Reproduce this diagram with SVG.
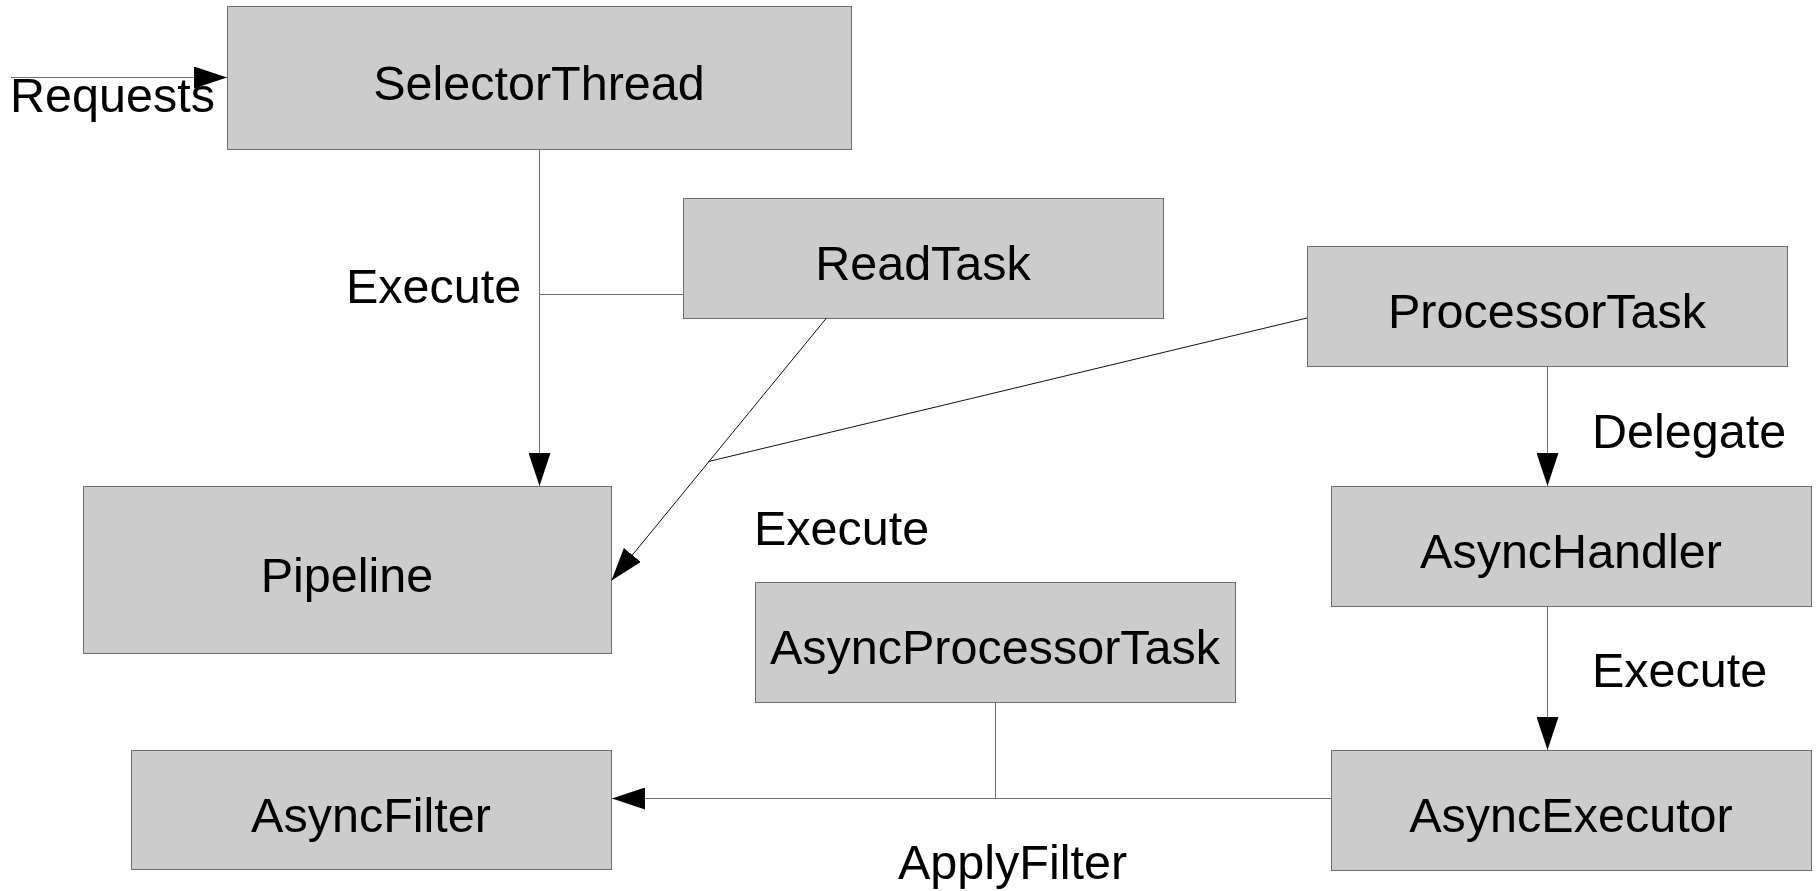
<svg xmlns="http://www.w3.org/2000/svg" width="1816" height="891" viewBox="0 0 1816 891">
  <style>
    .box { fill: #cccccc; stroke: #6e6e6e; stroke-width: 1; }
    .lbl { font-family: "Liberation Sans", Arial, sans-serif; font-size: 48.5px; fill: #000; }
    .name { text-anchor: middle; }
    .edge { fill: none; stroke: #6e6e6e; stroke-width: 1; }
    .diag { fill: none; stroke: #111; stroke-width: 1; }
  </style>
  <defs>
    <marker id="head" markerUnits="userSpaceOnUse" markerWidth="33" markerHeight="22" refX="33" refY="11" orient="auto">
      <path d="M0,0 L33,11 L0,22 Z" fill="#000"/>
    </marker>
  </defs>
  <rect width="1816" height="891" fill="#ffffff"/>

  <!-- nodes -->
  <g id="selector-thread">
    <rect class="box" x="227.5" y="6.5" width="624" height="143"/>
    <text class="lbl name" x="539" y="100">SelectorThread</text>
  </g>
  <g id="read-task">
    <rect class="box" x="683.5" y="198.5" width="480" height="120"/>
    <text class="lbl name" x="923" y="280">ReadTask</text>
  </g>
  <g id="processor-task">
    <rect class="box" x="1307.5" y="246.5" width="480" height="120"/>
    <text class="lbl name" x="1547" y="328">ProcessorTask</text>
  </g>
  <g id="pipeline">
    <rect class="box" x="83.5" y="486.5" width="528" height="167"/>
    <text class="lbl name" x="347" y="592">Pipeline</text>
  </g>
  <g id="async-handler">
    <rect class="box" x="1331.5" y="486.5" width="480" height="120"/>
    <text class="lbl name" x="1571" y="568">AsyncHandler</text>
  </g>
  <g id="async-processor-task">
    <rect class="box" x="755.5" y="582.5" width="480" height="120"/>
    <text class="lbl name" x="995" y="664">AsyncProcessorTask</text>
  </g>
  <g id="async-filter">
    <rect class="box" x="131.5" y="750.5" width="480" height="119"/>
    <text class="lbl name" x="371" y="832">AsyncFilter</text>
  </g>
  <g id="async-executor">
    <rect class="box" x="1331.5" y="750.5" width="480" height="120"/>
    <text class="lbl name" x="1571" y="832">AsyncExecutor</text>
  </g>

  <!-- connectors -->
  <g id="connectors">
    <line class="edge" x1="11" y1="77.5" x2="227" y2="77.5" marker-end="url(#head)"/>
    <line class="edge" x1="539.5" y1="150" x2="539.5" y2="486" marker-end="url(#head)"/>
    <line class="edge" x1="683" y1="294.5" x2="539.5" y2="294.5"/>
    <line class="diag" x1="826.5" y1="318" x2="611.5" y2="580.5" marker-end="url(#head)"/>
    <line class="diag" x1="1307" y1="318" x2="708.5" y2="461.5"/>
    <line class="edge" x1="1547.5" y1="367" x2="1547.5" y2="486" marker-end="url(#head)"/>
    <line class="edge" x1="1547.5" y1="607" x2="1547.5" y2="750" marker-end="url(#head)"/>
    <line class="edge" x1="1331" y1="798.5" x2="612" y2="798.5" marker-end="url(#head)"/>
    <line class="edge" x1="995.5" y1="703" x2="995.5" y2="798.5"/>
  </g>

  <!-- edge labels -->
  <g id="edge-labels">
    <text class="lbl" x="10" y="112">Requests</text>
    <text class="lbl" x="346" y="303">Execute</text>
    <text class="lbl" x="754" y="545">Execute</text>
    <text class="lbl" x="1592" y="448">Delegate</text>
    <text class="lbl" x="1592" y="687">Execute</text>
    <text class="lbl" x="898" y="879">ApplyFilter</text>
  </g>
</svg>
